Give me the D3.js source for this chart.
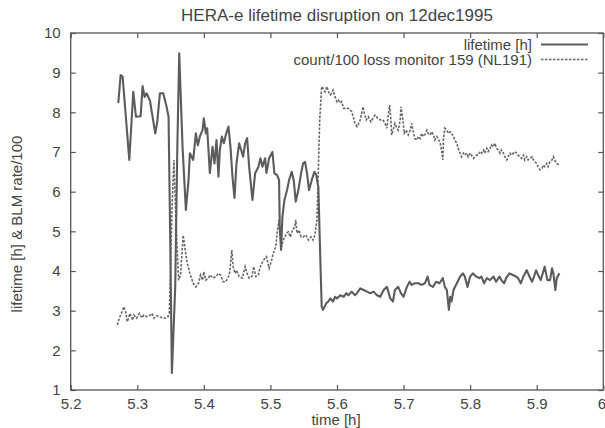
<!DOCTYPE html>
<html>
<head>
<meta charset="utf-8">
<script src="https://cdn.jsdelivr.net/npm/d3@7"></script>
<style>
  body { margin: 0; background: #fff; }
  svg { display: block; font-family: "Liberation Sans", Arial, Helvetica, sans-serif; }
  .tick text { fill: #444; font-size: 15px; }
  .tick line { stroke: #555; stroke-width: 1.2; }
</style>
</head>
<body>
<svg id="chart" width="605" height="428"></svg>
<script>
// chart text
var title = 'HERA-e lifetime disruption on 12dec1995';
var xTitle = 'time [h]';
var yTitle = 'lifetime [h] & BLM rate/100';
var seriesNames = ['lifetime [h]', 'count/100 loss monitor 159 (NL191)'];

// tick labels
var xTicks = [5.2, 5.3, 5.4, 5.5, 5.6, 5.7, 5.8, 5.9, 6.0];
var xTickLabels = ['5.2', '5.3', '5.4', '5.5', '5.6', '5.7', '5.8', '5.9', '6'];
var yTicks = [1, 2, 3, 4, 5, 6, 7, 8, 9, 10];

// lifetime [h]
var lifetimeTime = [
  5.2715, 5.275, 5.278, 5.288, 5.294, 5.298, 5.305, 5.308, 5.311, 5.314,
  5.319, 5.327, 5.330, 5.334, 5.339, 5.344, 5.347, 5.349, 5.352, 5.357,
  5.360, 5.363, 5.368, 5.373, 5.377, 5.379, 5.384, 5.388, 5.391, 5.394,
  5.398, 5.400, 5.403, 5.405, 5.409, 5.413, 5.416, 5.419, 5.422, 5.424,
  5.427, 5.430, 5.433, 5.437, 5.440, 5.443, 5.446, 5.449, 5.453, 5.456,
  5.459, 5.462, 5.465, 5.468, 5.473, 5.477, 5.482, 5.485, 5.488, 5.492,
  5.494, 5.498, 5.503, 5.506, 5.510, 5.513, 5.514, 5.516, 5.518, 5.521,
  5.525, 5.528, 5.532, 5.535, 5.538, 5.542, 5.546, 5.549, 5.552, 5.555,
  5.558, 5.562, 5.566, 5.569, 5.570, 5.572, 5.574, 5.577, 5.579, 5.584,
  5.587, 5.590, 5.594, 5.597, 5.600, 5.605, 5.610, 5.614, 5.617, 5.622,
  5.627, 5.630, 5.635, 5.640, 5.645, 5.650, 5.655, 5.660, 5.665, 5.670,
  5.675, 5.680, 5.684, 5.687, 5.692, 5.696, 5.700, 5.705, 5.709, 5.712,
  5.717, 5.722, 5.727, 5.732, 5.736, 5.739, 5.744, 5.749, 5.754, 5.759,
  5.762, 5.765, 5.768, 5.770, 5.772, 5.775, 5.780, 5.785, 5.789, 5.792,
  5.796, 5.800, 5.804, 5.809, 5.814, 5.817, 5.821, 5.825, 5.830, 5.835,
  5.839, 5.844, 5.847, 5.851, 5.854, 5.859, 5.864, 5.869, 5.872, 5.876,
  5.880, 5.885, 5.889, 5.893, 5.896, 5.899, 5.902, 5.906, 5.909, 5.912,
  5.916, 5.920, 5.923, 5.925, 5.928, 5.930, 5.934
];
var lifetimeValue = [
  8.23, 8.94, 8.90, 6.80, 8.52, 7.89, 7.90, 8.66, 8.39, 8.48,
  8.30, 7.47, 7.76, 8.48, 8.48, 8.14, 7.89, 5.40, 1.43, 3.60,
  6.97, 9.49, 7.13, 5.54, 6.29, 6.97, 6.80, 7.47, 7.17, 7.39,
  7.55, 7.85, 7.47, 7.60, 6.47, 7.13, 6.71, 7.30, 6.38, 7.05,
  7.39, 7.22, 7.43, 7.64, 7.13, 6.38, 5.84, 6.71, 7.22, 7.05,
  6.88, 7.22, 7.35, 6.63, 5.79, 6.46, 6.63, 6.84, 6.63, 6.84,
  6.47, 6.84, 7.00, 6.46, 6.42, 6.29, 5.12, 4.53, 5.37, 5.79,
  6.04, 6.29, 6.50, 6.29, 5.75, 6.04, 6.46, 6.71, 6.75, 6.46,
  6.04, 6.29, 6.50, 6.42, 6.29, 6.12, 4.86, 3.10, 3.02, 3.19,
  3.23, 3.31, 3.23, 3.35, 3.31, 3.39, 3.35, 3.44, 3.39, 3.48,
  3.39, 3.44, 3.56, 3.52, 3.48, 3.44, 3.48, 3.39, 3.35, 3.52,
  3.60, 3.31, 3.23, 3.52, 3.60, 3.44, 3.35, 3.60, 3.73, 3.65,
  3.69, 3.69, 3.65, 3.69, 3.86, 3.65, 3.60, 3.73, 3.69, 3.82,
  3.60, 3.52, 3.02, 3.35, 3.23, 3.52, 3.69, 3.86, 3.94, 3.86,
  3.60, 3.86, 3.94, 3.86, 3.82, 3.86, 3.69, 3.82, 3.77, 3.86,
  3.73, 3.86, 3.77, 3.69, 3.82, 3.94, 3.90, 3.86, 3.82, 3.69,
  3.86, 4.02, 3.86, 3.73, 3.86, 4.02, 3.90, 3.77, 3.94, 4.11,
  3.77, 3.77, 4.07, 3.94, 3.52, 3.82, 3.94
];

// BLM count rate / 100
var blmTime = [
  5.270, 5.273, 5.277, 5.280, 5.283, 5.285, 5.289, 5.293, 5.295, 5.299,
  5.303, 5.307, 5.310, 5.314, 5.318, 5.322, 5.325, 5.329, 5.333, 5.337,
  5.342, 5.346, 5.348, 5.350, 5.352, 5.355, 5.358, 5.362, 5.365, 5.369,
  5.372, 5.375, 5.379, 5.384, 5.388, 5.392, 5.395, 5.398, 5.400, 5.403,
  5.407, 5.409, 5.414, 5.418, 5.422, 5.425, 5.429, 5.433, 5.437, 5.439,
  5.442, 5.444, 5.447, 5.449, 5.453, 5.458, 5.462, 5.465, 5.468, 5.472,
  5.475, 5.478, 5.482, 5.484, 5.487, 5.490, 5.494, 5.498, 5.502, 5.504,
  5.508, 5.510, 5.513, 5.514, 5.517, 5.519, 5.522, 5.524, 5.527, 5.530,
  5.533, 5.537, 5.538, 5.540, 5.543, 5.546, 5.549, 5.553, 5.557, 5.561,
  5.564, 5.566, 5.567, 5.570, 5.572, 5.574, 5.577, 5.579, 5.582, 5.585,
  5.587, 5.590, 5.592, 5.594, 5.597, 5.600, 5.602, 5.605, 5.607, 5.610,
  5.614, 5.617, 5.620, 5.622, 5.625, 5.627, 5.630, 5.634, 5.636, 5.639,
  5.641, 5.644, 5.647, 5.651, 5.654, 5.657, 5.661, 5.665, 5.669, 5.672,
  5.675, 5.677, 5.679, 5.681, 5.682, 5.685, 5.687, 5.690, 5.692, 5.695,
  5.696, 5.699, 5.701, 5.704, 5.707, 5.710, 5.712, 5.715, 5.717, 5.720,
  5.722, 5.725, 5.727, 5.730, 5.732, 5.735, 5.737, 5.740, 5.742, 5.745,
  5.747, 5.750, 5.752, 5.755, 5.757, 5.759, 5.760, 5.762, 5.765, 5.767,
  5.770, 5.772, 5.775, 5.777, 5.780, 5.782, 5.785, 5.787, 5.790, 5.792,
  5.795, 5.797, 5.800, 5.802, 5.805, 5.807, 5.810, 5.812, 5.815, 5.817,
  5.820, 5.822, 5.825, 5.827, 5.830, 5.832, 5.835, 5.837, 5.840, 5.842,
  5.845, 5.847, 5.850, 5.852, 5.855, 5.857, 5.860, 5.862, 5.865, 5.867,
  5.870, 5.872, 5.875, 5.877, 5.880, 5.882, 5.885, 5.887, 5.890, 5.893,
  5.895, 5.897, 5.900, 5.902, 5.905, 5.908, 5.910, 5.912, 5.915, 5.917,
  5.920, 5.923, 5.925, 5.928, 5.930, 5.934
];
var blmValue = [
  2.64, 2.81, 2.97, 3.10, 2.93, 2.72, 2.93, 2.76, 2.89, 2.81,
  2.93, 2.82, 2.89, 2.85, 2.87, 2.93, 2.81, 2.87, 2.85, 2.82,
  2.81, 2.85, 2.93, 3.94, 5.50, 6.80, 5.29, 3.77, 3.90, 4.90,
  4.53, 4.20, 3.94, 3.69, 3.60, 3.69, 3.90, 3.77, 3.98, 3.77,
  3.82, 3.90, 3.82, 3.86, 3.94, 3.90, 3.73, 3.73, 3.86, 3.98,
  4.53, 4.11, 3.94, 4.02, 3.86, 3.82, 4.11, 3.94, 3.82, 3.86,
  4.11, 3.86, 3.90, 4.07, 4.19, 4.28, 4.36, 4.07, 4.28, 4.44,
  4.61, 4.95, 5.29, 4.95, 4.61, 4.78, 4.86, 4.95, 4.99, 4.86,
  5.03, 5.12, 5.29, 4.95, 5.03, 4.86, 4.86, 4.91, 4.78, 4.86,
  4.78, 4.86, 4.95, 5.29, 6.55, 7.80, 8.65, 8.61, 8.52, 8.65,
  8.52, 8.44, 8.48, 8.56, 8.39, 8.27, 8.31, 8.23, 8.27, 8.10,
  8.10, 8.10, 8.06, 8.02, 7.85, 7.72, 7.64, 7.76, 7.89, 8.14,
  7.98, 7.81, 7.89, 7.76, 7.85, 7.93, 7.85, 7.81, 7.81, 7.72,
  7.60, 7.93, 8.18, 7.81, 7.43, 7.60, 7.72, 7.60, 7.55, 7.81,
  8.14, 7.81, 7.47, 7.55, 7.43, 7.55, 7.72, 7.47, 7.34, 7.30,
  7.39, 7.34, 7.47, 7.39, 7.43, 7.55, 7.47, 7.43, 7.51, 7.43,
  7.30, 7.39, 7.34, 7.22, 7.05, 6.80, 7.34, 7.60, 7.55, 7.47,
  7.51, 7.47, 7.39, 7.30, 7.22, 7.09, 6.97, 6.88, 6.97, 6.92,
  6.97, 6.88, 6.97, 6.92, 6.84, 6.88, 6.92, 6.92, 7.01, 6.97,
  7.05, 6.97, 7.09, 7.01, 7.09, 7.18, 7.13, 7.22, 7.09, 7.05,
  6.97, 7.05, 6.97, 6.88, 6.80, 6.88, 6.97, 6.92, 6.97, 7.01,
  6.97, 6.92, 6.88, 6.84, 6.92, 6.80, 6.88, 6.80, 6.84, 6.88,
  6.80, 6.76, 6.71, 6.63, 6.55, 6.59, 6.67, 6.63, 6.71, 6.63,
  6.76, 6.80, 6.88, 6.76, 6.71, 6.67
];

function zip(ts, vs) {
  return ts.map(function (t, i) { return {t: t, v: vs[i]}; });
}

function render() {
  var svg = d3.select('#chart');
  var margin = {left: 70.7, right: 1.7, top: 33, bottom: 38};
  var width = +svg.attr('width'),
      height = +svg.attr('height');
  var x0 = margin.left, x1 = width - margin.right,
      y0 = margin.top, y1 = height - margin.bottom;

  var x = d3.scaleLinear().domain([5.2, 6.0]).range([x0, x1]);
  var y = d3.scaleLinear().domain([1, 10]).range([y1, y0]);

  // ticks point inwards on all four sides, labels only bottom/left
  svg.append('g')
    .attr('transform', 'translate(0,' + y1 + ')')
    .call(d3.axisBottom(x).tickValues(xTicks).tickSize(-5).tickPadding(8)
      .tickFormat(function (d, i) { return xTickLabels[i]; }))
    .call(function (g) {
      g.select('.domain').remove();
      g.selectAll('.tick:last-of-type text').attr('dx', '-2');
    });

  svg.append('g')
    .attr('transform', 'translate(0,' + y0 + ')')
    .call(d3.axisTop(x).tickValues(xTicks).tickSize(-5).tickFormat(''))
    .call(function (g) { g.select('.domain').remove(); });

  svg.append('g')
    .attr('transform', 'translate(' + x0 + ',0)')
    .call(d3.axisLeft(y).tickValues(yTicks).tickSize(-5).tickPadding(10)
      .tickFormat(d3.format('d')))
    .call(function (g) { g.select('.domain').remove(); });

  svg.append('g')
    .attr('transform', 'translate(' + x1 + ',0)')
    .call(d3.axisRight(y).tickValues(yTicks).tickSize(-5).tickFormat(''))
    .call(function (g) { g.select('.domain').remove(); });

  svg.append('rect')
    .attr('x', x0).attr('y', y0)
    .attr('width', x1 - x0).attr('height', y1 - y0)
    .attr('fill', 'none')
    .attr('stroke', '#555')
    .attr('stroke-width', 1.3);

  var line = d3.line()
    .x(function (d) { return x(d.t); })
    .y(function (d) { return y(d.v); });

  svg.append('path')
    .datum(zip(blmTime, blmValue))
    .attr('d', line)
    .attr('fill', 'none')
    .attr('stroke', '#666')
    .attr('stroke-width', 1.6)
    .attr('stroke-dasharray', '2.5,1.5');

  svg.append('path')
    .datum(zip(lifetimeTime, lifetimeValue))
    .attr('d', line)
    .attr('fill', 'none')
    .attr('stroke', '#5c5c5c')
    .attr('stroke-width', 2.1)
    .attr('stroke-linejoin', 'round');

  // legend
  var legend = svg.append('g').attr('class', 'legend');
  var rows = legend.selectAll('g')
    .data(seriesNames)
    .enter().append('g')
    .attr('transform', function (d, i) { return 'translate(0,' + (44.5 + i * 15) + ')'; });

  rows.append('text')
    .attr('x', 532)
    .attr('dy', '0.35em')
    .attr('text-anchor', 'end')
    .attr('fill', '#444')
    .style('font-size', '15px')
    .text(function (d) { return d; });

  rows.append('line')
    .attr('x1', 541).attr('x2', 588)
    .attr('stroke', function (d, i) { return i === 0 ? '#5c5c5c' : '#666'; })
    .attr('stroke-width', function (d, i) { return i === 0 ? 2.1 : 1.6; })
    .attr('stroke-dasharray', function (d, i) { return i === 0 ? null : '2.5,1.5'; });

  // titles
  svg.append('text')
    .attr('x', (x0 + x1) / 2)
    .attr('y', 21)
    .attr('text-anchor', 'middle')
    .attr('fill', '#444')
    .style('font-size', '17px')
    .text(title);

  svg.append('text')
    .attr('x', 336)
    .attr('y', 425)
    .attr('text-anchor', 'middle')
    .attr('fill', '#444')
    .style('font-size', '15px')
    .text(xTitle);

  svg.append('text')
    .attr('transform', 'translate(22,224) rotate(-90)')
    .attr('text-anchor', 'middle')
    .attr('fill', '#444')
    .style('font-size', '15px')
    .text(yTitle);
}

render();
</script>
</body>
</html>
